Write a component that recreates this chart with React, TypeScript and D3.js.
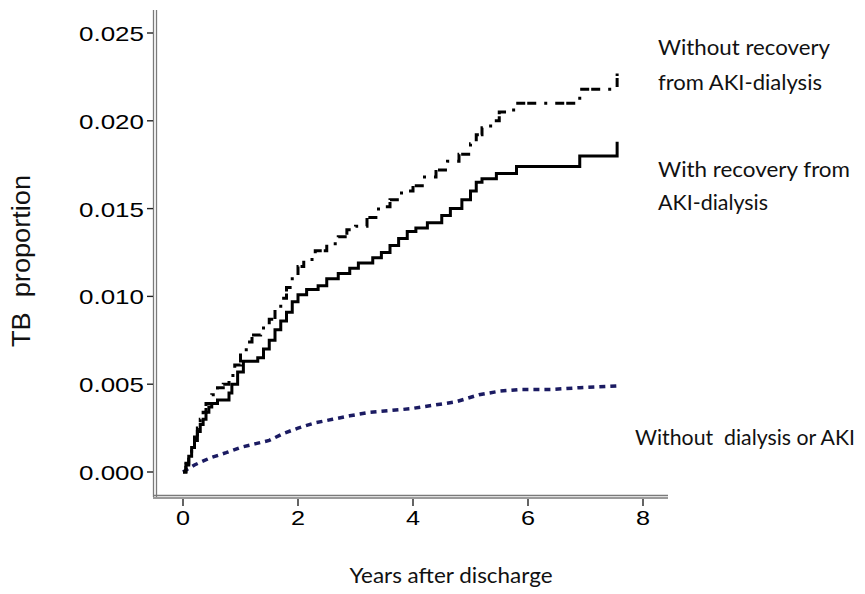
import React from 'react';
import * as d3 from 'd3';

// years after discharge / cumulative TB proportion
const recoveredYears = [0, 0.05, 0.1, 0.15, 0.2, 0.25, 0.3, 0.35, 0.4, 0.45, 0.5, 0.6, 0.8, 0.85, 0.95, 1.05, 1.3, 1.4, 1.5, 1.6, 1.7, 1.8, 1.9, 2.0, 2.15, 2.35, 2.5, 2.7, 2.9, 3.05, 3.3, 3.45, 3.6, 3.75, 3.9, 4.05, 4.25, 4.5, 4.65, 4.85, 5.0, 5.1, 5.2, 5.45, 5.8, 6.9, 7.55];
const recoveredTB = [0, 0.0004, 0.0009, 0.0014, 0.0018, 0.0023, 0.0027, 0.003, 0.0034, 0.0037, 0.0039, 0.0041, 0.0045, 0.005, 0.0057, 0.0063, 0.0065, 0.007, 0.0075, 0.0081, 0.0086, 0.0091, 0.0097, 0.0101, 0.0104, 0.0106, 0.011, 0.0113, 0.0116, 0.0119, 0.0122, 0.0125, 0.0129, 0.0133, 0.0137, 0.0139, 0.0142, 0.0146, 0.015, 0.0155, 0.016, 0.0165, 0.0167, 0.017, 0.0174, 0.018, 0.0188];

const notRecoveredYears = [0, 0.05, 0.1, 0.15, 0.2, 0.25, 0.3, 0.35, 0.4, 0.5, 0.6, 0.7, 0.8, 0.9, 1.0, 1.1, 1.2, 1.35, 1.5, 1.6, 1.7, 1.8, 1.9, 2.0, 2.1, 2.3, 2.5, 2.7, 2.85, 3.0, 3.2, 3.4, 3.6, 3.8, 4.0, 4.2, 4.4, 4.6, 4.8, 5.0, 5.1, 5.2, 5.35, 5.5, 5.75, 6.9, 7.55];
const notRecoveredTB = [0, 0.0005, 0.001, 0.0015, 0.002, 0.0025, 0.003, 0.0034, 0.0039, 0.0044, 0.0048, 0.005, 0.0055, 0.0061, 0.0068, 0.0074, 0.0078, 0.0082, 0.0087, 0.0093, 0.0099, 0.0105, 0.0111, 0.0117, 0.0121, 0.0126, 0.013, 0.0134, 0.0138, 0.014, 0.0145, 0.0151, 0.0155, 0.016, 0.0163, 0.0168, 0.0172, 0.0177, 0.0181, 0.0187, 0.0192, 0.0196, 0.02, 0.0205, 0.021, 0.0218, 0.0227];

const noDialysisYears = [0, 0.2, 0.47, 0.75, 1.0, 1.25, 1.5, 1.75, 2.0, 2.3, 2.6, 2.9, 3.25, 3.6, 3.95, 4.35, 4.75, 5.15, 5.5, 5.85, 6.4, 6.9, 7.55];
const noDialysisTB = [0, 0.0004, 0.0008, 0.0011, 0.0014, 0.0016, 0.0018, 0.0022, 0.0025, 0.0028, 0.003, 0.0032, 0.0034, 0.0035, 0.0036, 0.0038, 0.004, 0.0044, 0.0046, 0.0047, 0.0047, 0.0048, 0.0049];

const yTicks = [0, 0.005, 0.01, 0.015, 0.02, 0.025];
const xTicks = [0, 2, 4, 6, 8];

const sansFont = '"Liberation Sans", Arial, sans-serif';
const labelFont = 'Lato, "Open Sans", sans-serif';

const App = () => {
  const x = d3.scaleLinear().domain([0, 8]).range([183, 643]);
  const y = d3.scaleLinear().domain([0, 0.025]).range([472, 33]);

  const zip = (xs: number[], vs: number[]) => xs.map((t, i) => [t, vs[i]] as [number, number]);

  const stepLine = d3
    .line<[number, number]>()
    .x((d) => x(d[0]))
    .y((d) => y(d[1]))
    .curve(d3.curveStepAfter);

  const smoothLine = d3
    .line<[number, number]>()
    .x((d) => x(d[0]))
    .y((d) => y(d[1]));

  return (
    <svg width={865} height={594} style={{ position: 'absolute', left: 0, top: 0, background: '#fff' }}>
      {/* axes - double grey rules like the original */}
      <line x1={153.5} x2={153.5} y1={10} y2={497} stroke="#7a7a7a" strokeWidth={1.3} />
      <line x1={156.5} x2={156.5} y1={10} y2={497} stroke="#7a7a7a" strokeWidth={1.3} />
      <line x1={153} x2={668} y1={495.5} y2={495.5} stroke="#7a7a7a" strokeWidth={1.3} />
      <line x1={153} x2={668} y1={498} y2={498} stroke="#7a7a7a" strokeWidth={1.3} />

      {yTicks.map((t) => (
        <g key={t}>
          <line x1={147} x2={153} y1={y(t)} y2={y(t)} stroke="#222" strokeWidth={1.4} />
          <text
            x={144}
            y={y(t) + 8}
            textAnchor="end"
            fontFamily={sansFont}
            fontSize={21}
            textLength={65}
            lengthAdjust="spacingAndGlyphs"
            fill="#000"
          >
            {t.toFixed(3)}
          </text>
        </g>
      ))}

      {xTicks.map((t) => (
        <g key={t}>
          <line x1={x(t)} x2={x(t)} y1={499} y2={506} stroke="#222" strokeWidth={1.4} />
          <text
            transform={`translate(${x(t)},525) scale(1.2,1)`}
            textAnchor="middle"
            fontFamily={sansFont}
            fontSize={21}
            fill="#000"
          >
            {t}
          </text>
        </g>
      ))}

      <text
        transform="translate(30,261) rotate(-90)"
        textAnchor="middle"
        fontFamily={sansFont}
        fontSize={25}
        textLength={172}
        lengthAdjust="spacingAndGlyphs"
        fill="#111"
        style={{ whiteSpace: 'pre' }}
      >
        TB  proportion
      </text>

      <text x={451} y={583} textAnchor="middle" fontFamily={labelFont} fontSize={22} textLength={203} lengthAdjust="spacingAndGlyphs" fill="#111">
        Years after discharge
      </text>

      {/* curves */}
      <path
        d={smoothLine(zip(noDialysisYears, noDialysisTB)) || ''}
        fill="none"
        stroke="#1b1b62"
        strokeWidth={3.5}
        strokeDasharray="6,5"
      />
      <path
        d={stepLine(zip(notRecoveredYears, notRecoveredTB)) || ''}
        fill="none"
        stroke="#000"
        strokeWidth={3}
        strokeDasharray="9,2,9,8,3,8"
      />
      <path d={stepLine(zip(recoveredYears, recoveredTB)) || ''} fill="none" stroke="#000" strokeWidth={3} />

      {/* curve labels */}
      <g fontFamily={labelFont} fontSize={21} fill="#111">
        <text x={658} y={55} textLength={172} lengthAdjust="spacingAndGlyphs">Without recovery</text>
        <text x={658} y={90} textLength={164} lengthAdjust="spacingAndGlyphs">from AKI-dialysis</text>
        <text x={658} y={177} textLength={192} lengthAdjust="spacingAndGlyphs">With recovery from</text>
        <text x={658} y={210} textLength={110} lengthAdjust="spacingAndGlyphs">AKI-dialysis</text>
        <text x={635} y={445} textLength={220} lengthAdjust="spacingAndGlyphs" style={{ whiteSpace: 'pre' }}>
          Without  dialysis or AKI
        </text>
      </g>
    </svg>
  );
};

export default App;
